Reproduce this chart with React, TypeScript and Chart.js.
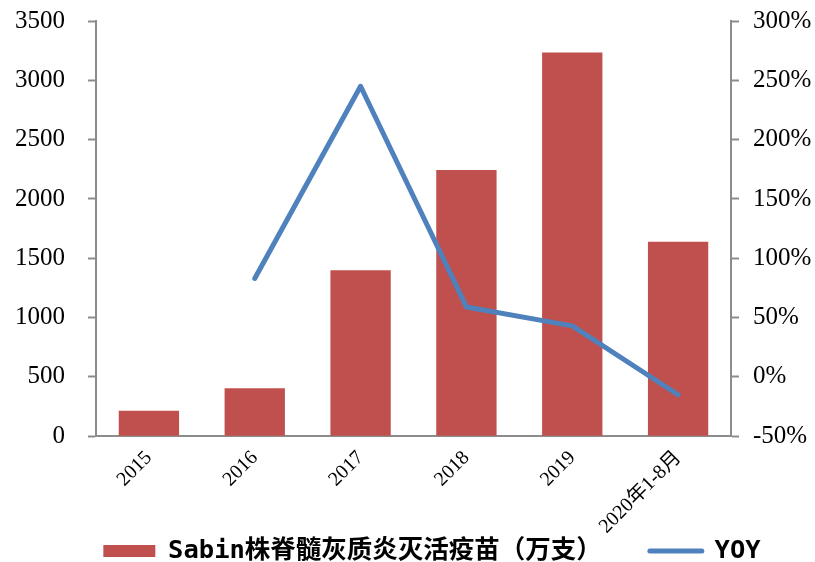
import React, { useEffect, useRef } from 'react';
import { Chart, registerables } from 'chart.js';

Chart.register(...registerables);

const categories = ['2015', '2016', '2017', '2018', '2019', '2020年1-8月'];
const vaccineValues = [215, 405, 1400, 2245, 3235, 1640];
const yoyValues = [null, 83, 245, 59, 43, -15];
const seriesNames = ['Sabin株脊髓灰质炎灭活疫苗（万支）', 'YOY'];
const leftAxisRange = [0, 3500, 500];
const rightAxisRange = [-50, 300, 50];

const barColor = '#C0504D';
const lineColor = '#4F81BD';
const axisColor = '#8C8C8C';
const tickFont = { family: "'Liberation Serif', 'Times New Roman', 'Noto Sans CJK SC', serif", size: 25 };
const xFont = { family: "'Liberation Serif', 'Times New Roman', 'Noto Sans CJK SC', serif", size: 20 };
const legendFont = { family: "'DejaVu Sans Mono', 'Noto Sans CJK SC', sans-serif", size: 25.5, weight: 'bold' as const };

const noClip = (s: any) => {
  s._computeLabelArea = () => undefined;
  s.paddingTop = 0;
  s.paddingBottom = 0;
  s.paddingLeft = 0;
  s.paddingRight = 0;
};

export default function App() {
  const ref = useRef<HTMLCanvasElement | null>(null);

  useEffect(() => {
    document.body.style.margin = '0';
    const canvas = ref.current;
    if (!canvas) return;
    const chart = new Chart(canvas, {
      type: 'bar',
      data: {
        labels: categories,
        datasets: [
          {
            type: 'bar',
            label: seriesNames[0],
            data: vaccineValues,
            backgroundColor: barColor,
            borderWidth: 0,
            yAxisID: 'y',
            categoryPercentage: 1,
            barPercentage: 0.57,
            order: 1,
          },
          {
            type: 'line',
            label: seriesNames[1],
            data: yoyValues as any,
            borderColor: lineColor,
            backgroundColor: lineColor,
            borderWidth: 5,
            pointRadius: 0,
            pointHoverRadius: 0,
            borderCapStyle: 'round',
            borderJoinStyle: 'round',
            tension: 0,
            spanGaps: false,
            yAxisID: 'y1',
            order: 0,
          },
        ],
      },
      options: {
        responsive: false,
        animation: false,
        devicePixelRatio: 1,
        layout: { padding: { left: 49, right: 0, top: 21, bottom: -11.75 } },
        plugins: {
          tooltip: { enabled: false },
          legend: {
            display: true,
            position: 'bottom',
            labels: {
              usePointStyle: true,
              pointStyleWidth: 52,
              boxHeight: 12,
              padding: 48,
              color: '#000',
              font: legendFont,
              generateLabels: () => [
                {
                  text: seriesNames[0],
                  fillStyle: barColor,
                  strokeStyle: barColor,
                  lineWidth: 0,
                  pointStyle: 'rect',
                  datasetIndex: 0,
                  hidden: false,
                } as any,
                {
                  text: seriesNames[1],
                  fillStyle: lineColor,
                  strokeStyle: lineColor,
                  lineWidth: 5,
                  lineCap: 'round',
                  pointStyle: 'line',
                  datasetIndex: 1,
                  hidden: false,
                } as any,
              ],
            },
          },
        },
        scales: {
          x: {
            offset: true,
            grid: { display: false, drawTicks: false },
            border: { display: true, color: axisColor, width: 2 },
            ticks: {
              color: '#000',
              font: xFont,
              minRotation: 45,
              maxRotation: 45,
              autoSkip: false,
              padding: 10,
            },
            afterFit: (s: any) => {
              s.height = 54;
              noClip(s);
            },
          },
          y: {
            position: 'left',
            min: leftAxisRange[0],
            max: leftAxisRange[1],
            grid: { drawOnChartArea: false, drawTicks: true, tickLength: 8, color: axisColor, tickColor: axisColor, tickWidth: 2 },
            border: { display: true, color: axisColor, width: 2 },
            ticks: {
              stepSize: leftAxisRange[2],
              color: '#000',
              font: tickFont,
              padding: 23,
              callback: (v: any) => String(v),
            },
            afterFit: (s: any) => {
              s.width = 47;
              noClip(s);
            },
          },
          y1: {
            position: 'right',
            min: rightAxisRange[0],
            max: rightAxisRange[1],
            grid: { drawOnChartArea: false, drawTicks: true, tickLength: 8, color: axisColor, tickColor: axisColor, tickWidth: 2 },
            border: { display: true, color: axisColor, width: 2 },
            ticks: {
              stepSize: rightAxisRange[2],
              color: '#000',
              font: tickFont,
              padding: 14,
              callback: (v: any) => `${v}%`,
            },
            afterFit: (s: any) => {
              s.width = 84;
              noClip(s);
            },
          },
        },
      },
    });
    return () => chart.destroy();
  }, []);

  return (
    <div style={{ width: 815, height: 562 }}>
      <canvas ref={ref} width={815} height={562} style={{ display: 'block' }} />
    </div>
  );
}
